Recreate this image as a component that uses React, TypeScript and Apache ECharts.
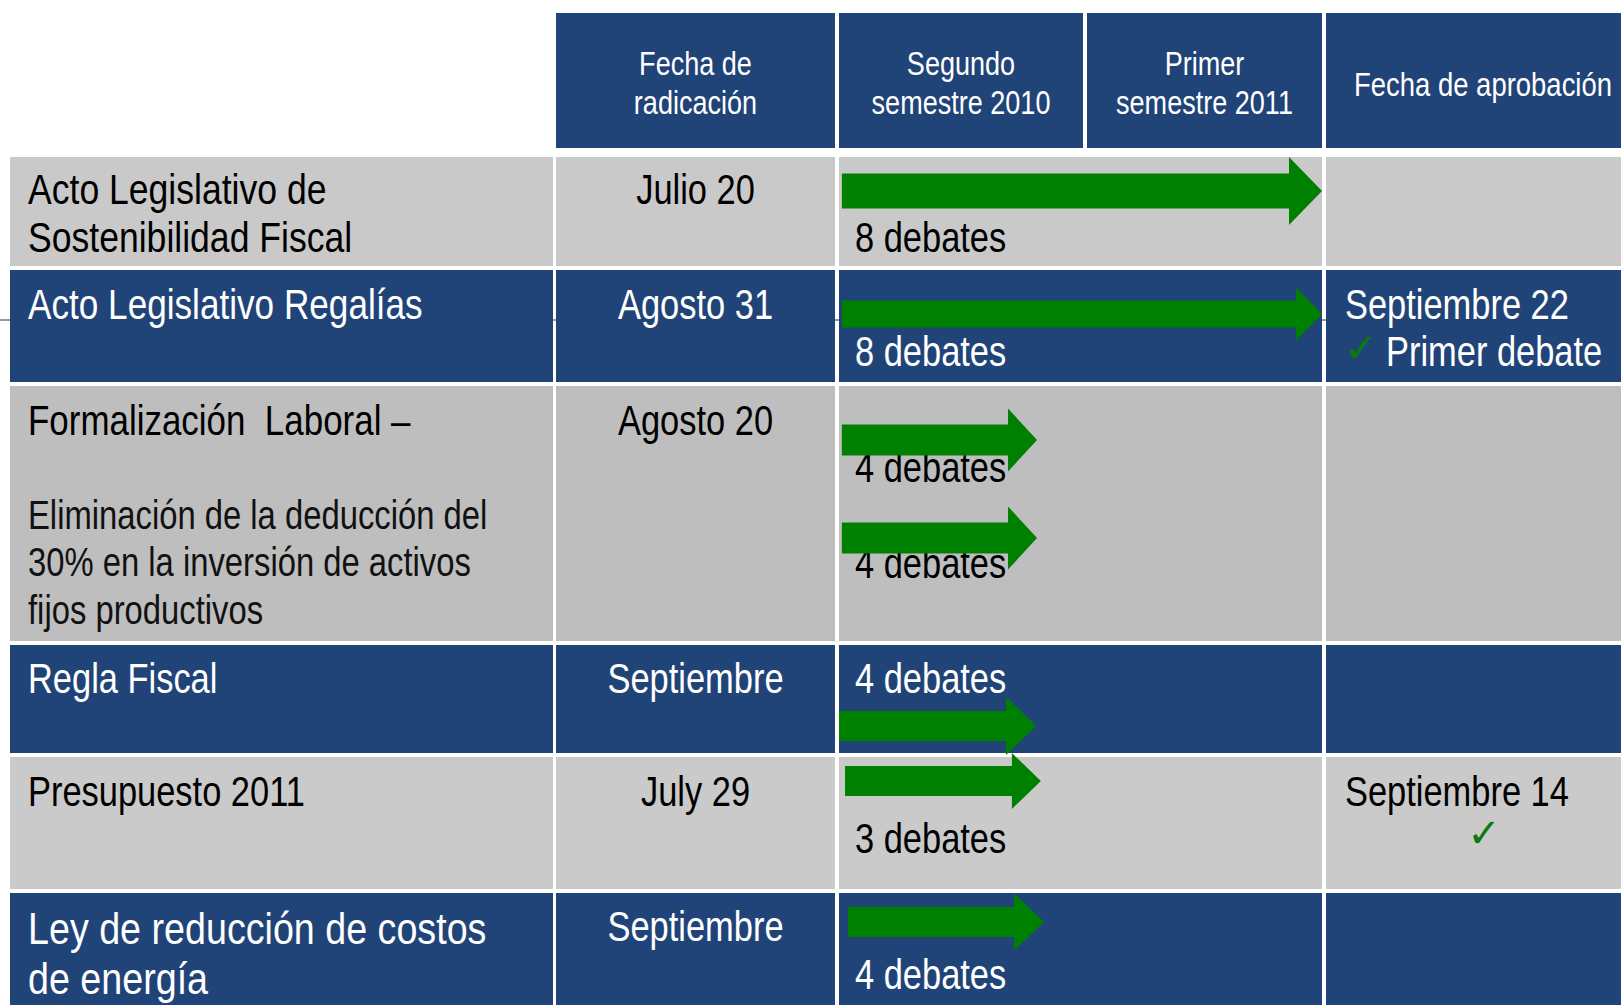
import React, { useEffect, useRef } from "react";
import * as echarts from "echarts";

// ---------- data ----------
const headerLabels: string[][] = [
  ["Fecha de", "radicación"],
  ["Segundo", "semestre 2010"],
  ["Primer", "semestre 2011"],
  ["Fecha de aprobación"],
];
const projectLines: string[][] = [
  ["Acto Legislativo de", "Sostenibilidad Fiscal"],
  ["Acto Legislativo Regalías"],
  ["Formalización  Laboral –"],
  ["Regla Fiscal"],
  ["Presupuesto 2011"],
  ["Ley de reducción de costos", "de energía"],
];
const projectNote: string[] = [
  "Eliminación de la deducción del",
  "30% en la inversión de activos",
  "fijos productivos",
];
const filingDates: string[] = ["Julio 20", "Agosto 31", "Agosto 20", "Septiembre", "July 29", "Septiembre"];
// one entry per arrow (row 3 has two arrows)
const arrowRow: number[] = [0, 1, 2, 2, 3, 4, 5];
const debateLabels: string[] = ["8 debates", "8 debates", "4 debates", "4 debates", "4 debates", "3 debates", "4 debates"];
// arrow span in semesters from the start of the second semester of 2010
const arrowStart: number[] = [0.012, 0.012, 0.012, 0.012, 0, 0.025, 0.037];
const arrowEnd: number[] = [2, 2, 0.82, 0.82, 0.816, 0.836, 0.849];
const approvalDates: string[] = ["", "Septiembre 22", "", "", "Septiembre 14", ""];
const approvalNotes: string[] = ["", "Primer debate", "", "", "", ""];
const approvalChecks: boolean[] = [false, true, false, false, true, false];

// ---------- layout / style ----------
const W = 1621;
const H = 1005;
const BLUE = "#214478";
const GREEN = "#008000";
const CHECK = "#0b7a0b";
const FONT = '"Liberation Sans", Arial, sans-serif';
const NARROW = 0.82;
const headerBand = [13, 148];
const headerCols = [
  [556, 835],
  [839, 1083],
  [1087, 1322],
  [1326, 1640],
];
const headerTextX = [695.5, 961, 1204.5, 1483];
const headerTextY = [
  [64, 103],
  [64, 103],
  [64, 103],
  [84],
];
const headerSize = [33, 33, 33, 33.5];
const colLabel = [10, 553];
const colFiled = [556, 835];
const colSpan = [839, 1322];
const colApproved = [1326, 1640];
const rowBands = [
  [157, 266],
  [270, 382],
  [386, 641],
  [645, 753],
  [757, 889],
  [893, 1010],
];
const rowFill = ["#c9c9c9", BLUE, "#bebebe", BLUE, "#cacaca", BLUE];
const rowText = ["#000", "#fff", "#000", "#fff", "#000", "#fff"];
const labelLineY = [[189, 237], [304], [420], [678], [791], [928, 978]];
const labelSize = [42, 42, 42, 42, 42, 45];
const labelScale = [0.847, 0.837, 0.832, 0.82, 0.82, 0.837];
const noteLineY = [515, 562, 610];
const filedY = [189, 304, 420, 678, 791, 926];
const debateY = [237, 351, 467, 563, 678, 838, 974];
const arrowY = [191, 314, 440, 538, 726, 781, 922];
// [shaft half-height, head half-height, head length]
const arrowSize = [
  [17.5, 34, 33],
  [13.5, 26.5, 26],
  [15.5, 31.5, 29],
  [15.5, 31.5, 29],
  [15, 29, 30],
  [15, 28, 29],
  [15, 28.5, 30],
];
const approvalY = [0, 304, 0, 0, 791, 0];
const approvalNoteY = [0, 351, 0, 0, 0, 0];
const checkPos = [null, [1361, 348], null, null, [1484, 833], null] as (number[] | null)[];

function txt(text: string, x: number, y: number, size: number, fill: string, align = "left", family = FONT, sx = NARROW) {
  return {
    type: "text",
    x,
    y,
    z: 5,
    scaleX: sx,
    style: {
      text,
      fill,
      fontSize: size,
      fontFamily: family,
      textAlign: align,
      textVerticalAlign: "middle",
    },
  };
}
function rect(x0: number, x1: number, y0: number, y1: number, fill: string) {
  return { type: "rect", z: 2, shape: { x: x0, y: y0, width: x1 - x0, height: y1 - y0 }, style: { fill } };
}

export default function App() {
  const ref = useRef<HTMLDivElement>(null);
  useEffect(() => {
    document.body.style.margin = "0";
    const chart = echarts.init(ref.current!, undefined, { renderer: "svg" });
    const g: any[] = [];
    g.push({ type: "line", z: 1, shape: { x1: 0, y1: 320, x2: W, y2: 320 }, style: { stroke: "#333", lineWidth: 1 } });
    headerCols.forEach((c, i) => {
      g.push(rect(c[0], c[1], headerBand[0], headerBand[1], BLUE));
      headerLabels[i].forEach((t, j) => g.push(txt(t, headerTextX[i], headerTextY[i][j], headerSize[i], "#fff", "center")));
    });
    rowBands.forEach((b, r) => {
      const fill = rowFill[r];
      const tc = rowText[r];
      g.push(rect(colLabel[0], colLabel[1], b[0], b[1], fill));
      g.push(rect(colFiled[0], colFiled[1], b[0], b[1], fill));
      g.push(rect(colSpan[0], colSpan[1], b[0], b[1], fill));
      g.push(rect(colApproved[0], colApproved[1], b[0], b[1], fill));
      projectLines[r].forEach((t, j) => g.push(txt(t, 28, labelLineY[r][j], labelSize[r], tc, "left", FONT, labelScale[r])));
      if (r === 2) projectNote.forEach((t, j) => g.push(txt(t, 28, noteLineY[j], 40, "#111")));
      g.push(txt(filingDates[r], 695.5, filedY[r], 42, tc, "center"));
      if (approvalDates[r]) g.push(txt(approvalDates[r], 1345, approvalY[r], 42, tc));
      if (approvalNotes[r]) g.push(txt(approvalNotes[r], 1386, approvalNoteY[r], 42, tc));
      const cp = checkPos[r];
      if (approvalChecks[r] && cp) g.push(txt("✓", cp[0], cp[1], 40, CHECK, "center", '"DejaVu Sans", sans-serif', 1));
    });
    debateLabels.forEach((t, i) => g.push(txt(t, 855, debateY[i], 42, rowText[arrowRow[i]])));

    const data = arrowStart.map((s, i) => [s, arrowEnd[i], arrowY[i], i]);
    chart.setOption({
      animation: false,
      graphic: { elements: g },
      grid: { left: colSpan[0], width: colSpan[1] - colSpan[0], top: 0, height: H },
      xAxis: { type: "value", min: 0, max: 2, show: false },
      yAxis: { type: "value", min: 0, max: H, inverse: true, show: false },
      series: [
        {
          type: "custom",
          z: 50,
          data,
          encode: { x: [0, 1], y: 2 },
          renderItem: (params: any, api: any) => {
            const s = api.coord([api.value(0), api.value(2)]);
            const e = api.coord([api.value(1), api.value(2)]);
            const [sh, hh, hl] = arrowSize[params.dataIndex];
            const cy = s[1];
            const xb = e[0] - hl;
            return {
              type: "polygon",
              z2: 50,
              shape: {
                points: [
                  [s[0], cy - sh],
                  [xb, cy - sh],
                  [xb, cy - hh],
                  [e[0], cy],
                  [xb, cy + hh],
                  [xb, cy + sh],
                  [s[0], cy + sh],
                ],
              },
              style: { fill: GREEN },
            };
          },
        },
      ],
    });
    return () => chart.dispose();
  }, []);
  return <div ref={ref} style={{ width: W, height: H }} />;
}
